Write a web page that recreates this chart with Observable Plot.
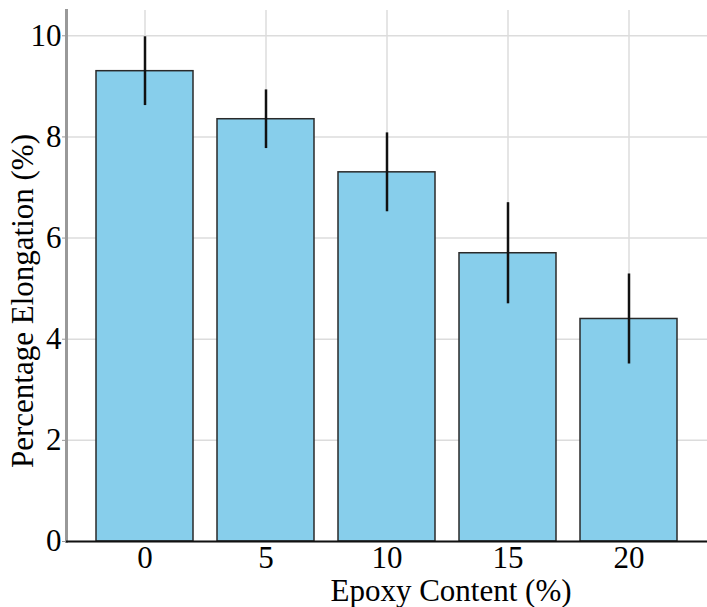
<!DOCTYPE html>
<html><head><meta charset="utf-8">
<script src="https://cdn.jsdelivr.net/npm/d3@7"></script>
<script src="https://cdn.jsdelivr.net/npm/@observablehq/plot@0.6"></script>
<style>body{margin:0;background:#fff}</style>
</head><body><div id="chart"></div>
<script>
const epoxy = ["0", "5", "10", "15", "20"];
const elongation = [9.3, 8.35, 7.3, 5.7, 4.4];
const errors = [0.68, 0.58, 0.78, 1.0, 0.89];
const yTicks = [0, 2, 4, 6, 8, 10];
const xTitle = "Epoxy Content (%)";
const yTitle = "Percentage Elongation (%)";
const data = epoxy.map((e, i) => ({e, v: elongation[i], err: errors[i]}));
const chart = Plot.plot({
  width: 707, height: 607,
  marginLeft: 66, marginRight: 0, marginTop: 10, marginBottom: 66,
  style: {fontFamily: "'Liberation Serif', serif", fontSize: "31px", background: "#fff", color: "#000"},
  x: {domain: epoxy, paddingInner: 0.2, paddingOuter: 0.233},
  y: {domain: [0, 10.5]},
  marks: [
    Plot.gridY(yTicks, {stroke: "#dcdcdc", strokeOpacity: 1, strokeWidth: 1.5}),
    Plot.gridX(epoxy, {stroke: "#dcdcdc", strokeOpacity: 1, strokeWidth: 1.5}),
    Plot.barY(data, {x: "e", y: "v", fill: "#87CEEB", stroke: "#2a2a2a", strokeWidth: 1.5}),
    Plot.ruleX(data, {x: "e", y1: d => d.v - d.err, y2: d => d.v + d.err, stroke: "#111", strokeWidth: 2.5}),
    Plot.axisY({ticks: yTicks, tickSize: 4, tickPadding: 1, stroke: "#999", fontSize: 31, label: null}),
    Plot.axisX({tickSize: 0, tickPadding: 4, fontSize: 31, label: null}),
    Plot.text([yTitle], {frameAnchor: "left", rotate: -90, textAnchor: "middle", lineAnchor: "middle", dx: -43, dy: 25, fontSize: 31, fill: "#000"}),
    Plot.text([xTitle], {frameAnchor: "bottom", textAnchor: "middle", lineAnchor: "middle", dx: 64, dy: 50, fontSize: 31, fill: "#000"}),
    Plot.frame({anchor: "left", stroke: "#999", strokeWidth: 3}),
    Plot.ruleY([0], {stroke: "#111", strokeWidth: 2})
  ]
});
document.getElementById("chart").appendChild(chart);
</script>
</body></html>
